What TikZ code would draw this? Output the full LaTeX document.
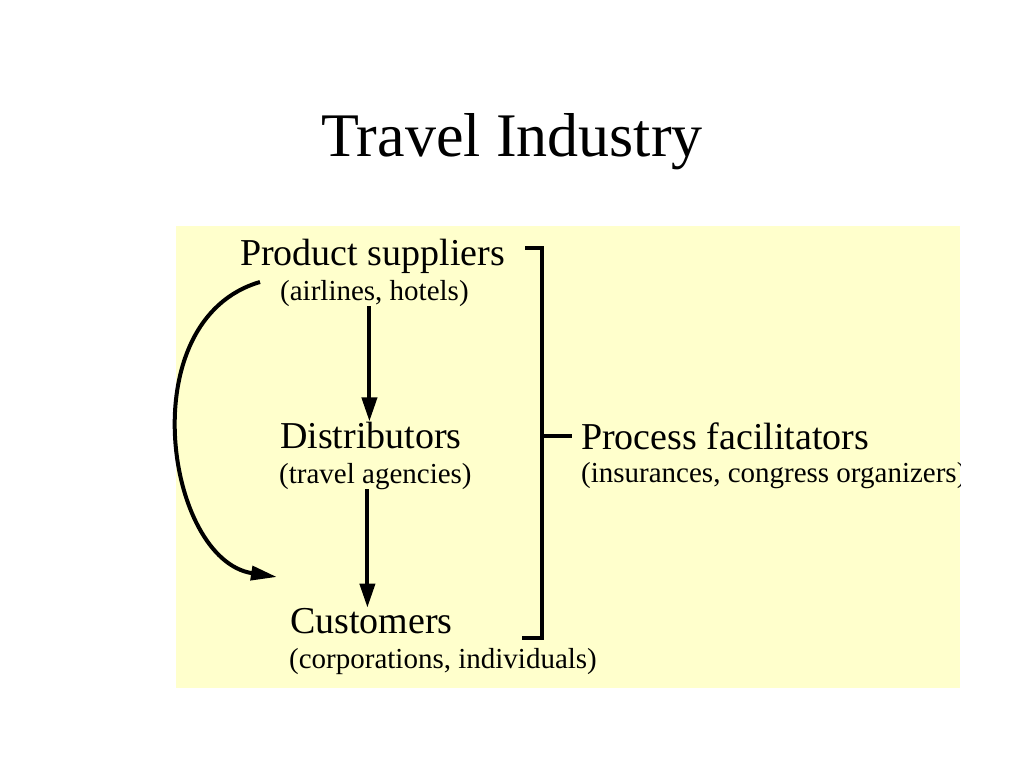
\documentclass[tikz,border=0pt]{standalone}
\usepackage{fontspec}
\setmainfont{Liberation Serif}
\usetikzlibrary{arrows.meta, positioning}
\definecolor{paleyellow}{RGB}{255,255,204}
\tikzstyle{heading} = [font=\fontsize{62}{70}\selectfont, inner sep=0pt]
\tikzstyle{actor} = [font=\fontsize{38}{44}\selectfont, inner sep=0pt, anchor=base west]
\tikzstyle{example} = [font=\fontsize{29}{34}\selectfont, inner sep=0pt, anchor=base west]
\tikzstyle{flow} = [line width=4pt, -{Triangle[length=24pt,width=15pt]}]
\tikzstyle{bracket} = [line width=4pt]

\begin{document}
\begin{tikzpicture}[x=1pt, y=-1pt]
	\useasboundingbox (0,0) rectangle (1024,768);
	\fill[paleyellow] (176,226) rectangle (960,688);
	\node[heading, anchor=base] (title) at (512,156) {Travel Industry};
	% chain of actors
	\node[actor] (sup) at (240,265) {Product suppliers};
	\node[example] (supsub) at (280,300) {(airlines, hotels)};
	\node[actor] (dist) at (280,448) {Distributors};
	\node[example] (distsub) at (279,483) {(travel agencies)};
	\node[actor] (cust) at (290,633) {Customers};
	\node[example] (custsub) at (289,668) {(corporations, individuals)};
	\node[actor] (facil) at (581,449) {Process facilitators};
	\begin{scope}
		\clip (176,226) rectangle (960,688);
		\node[example] (facilsub) at (581,482) {(insurances, congress organizers)};
	\end{scope}
	\draw[flow] ([xshift=-5pt]supsub.south) -- ([xshift=-5pt]supsub.south |- dist.north);
	\draw[flow] ([xshift=-8pt]distsub.south) -- ([xshift=-8pt]distsub.south |- cust.north);
	% direct sale
	\coordinate (loopstart) at (260,282);
	\coordinate (loopend) at (277,577);
	\draw[line width=4pt, -{Triangle[length=26pt,width=14pt]}] (loopstart) .. controls (130,320) and (166,560) .. (loopend);
	% bracket
	\coordinate (brtop) at (542,248);
	\coordinate (brbot) at (542,638);
	\draw[bracket] ([xshift=-17pt]brtop) -- (brtop) -- (brbot) -- ([xshift=-20pt]brbot);
	\draw[bracket] (brtop |- facil.west) -- ([xshift=-9pt]facil.west);
\end{tikzpicture}
\end{document}
